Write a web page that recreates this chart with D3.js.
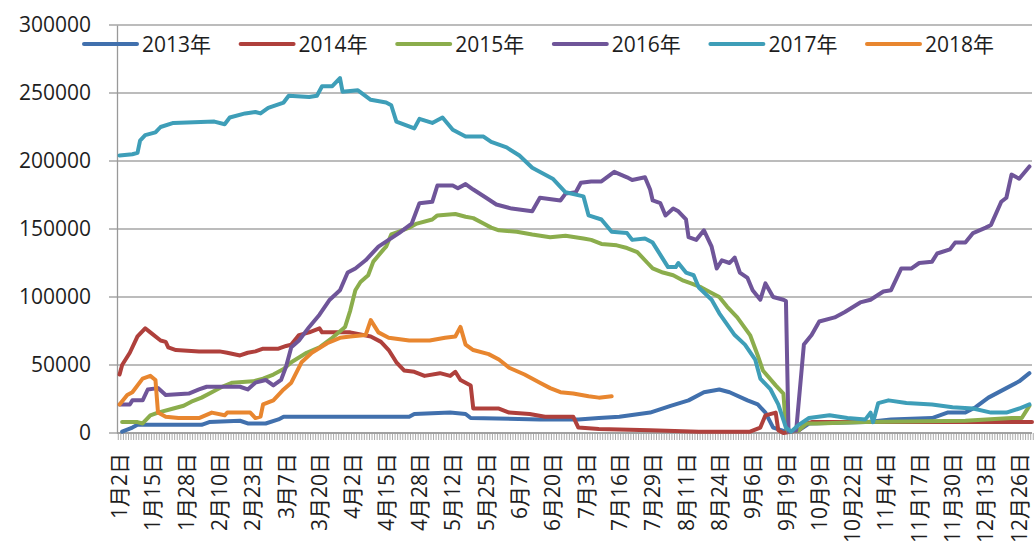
<!DOCTYPE html>
<html>
<head>
<meta charset="utf-8">
<script src="https://cdn.jsdelivr.net/npm/d3@7"></script>
<style>
  body { margin: 0; background: #fff; }
  text { font-family: "Open Sans", "Noto Sans CJK SC", sans-serif; fill: #1e1e1e; }
</style>
</head>
<body>
<svg id="chart" width="1034" height="558"></svg>
<script>
// category axis: one slot per trading day, a label every 13 slots
var nCats = 357;
var labelStep = 13;
var tickLabels = ["1月2日","1月15日","1月28日","2月10日","2月23日","3月7日","3月20日",
  "4月2日","4月15日","4月28日","5月12日","5月25日","6月7日","6月20日","7月3日",
  "7月16日","7月29日","8月11日","8月24日","9月6日","9月19日","10月9日","10月22日",
  "11月4日","11月17日","11月30日","12月13日","12月26日"];
var yTicks = [0, 50000, 100000, 150000, 200000, 250000, 300000];
var years = ["2013年","2014年","2015年","2016年","2017年","2018年"];
var colors = ["#4170ad","#af403c","#8bad4c","#6f5599","#3e9eb8","#e8862f"];

// [day index, value]
var s2013 = [[1,1000],[5,4000],[7,6000],[32,6000],[35,8000],[47,9000],[50,7000],[57,7000],
  [62,10000],[64,12000],[90,12000],[113,12000],[115,14000],[129,15000],[135,14000],[137,11000],
  [164,10000],[179,10000],[187,11000],[195,12000],[207,15000],[215,20000],[222,24000],[228,30000],
  [234,32000],[238,30000],[245,24000],[249,21000],[252,15000],[255,4000],[260,1000],[265,2000],
  [269,7000],[291,8000],[301,10000],[317,11000],[323,15000],[330,15000],[334,19000],[339,26000],
  [346,33000],[351,38000],[355,44000]];
var s2014 = [[0,43000],[1,50000],[4,59000],[7,71000],[10,77000],[12,74000],[16,68000],[18,67000],
  [19,63000],[22,61000],[31,60000],[39,60000],[42,59000],[47,57000],[50,59000],[53,60000],
  [56,62000],[62,62000],[65,64000],[67,65000],[70,72000],[74,74000],[78,77000],[79,74000],
  [90,74000],[98,71000],[102,67000],[105,61000],[108,52000],[111,46000],[115,45000],[119,42000],
  [125,44000],[129,42000],[131,45000],[133,39000],[137,35000],[138,18000],[148,18000],[152,15000],
  [160,14000],[166,12000],[177,12000],[179,4000],[187,3000],[207,2000],[226,1000],[246,1000],
  [250,4000],[252,13000],[256,15000],[257,2000],[259,0],[265,2000],[268,7000],[270,8000],[356,8000]];
var s2015 = [[1,8000],[7,8000],[9,7000],[12,13000],[15,15000],[21,18000],[25,20000],[28,23000],
  [32,26000],[36,30000],[40,34000],[44,37000],[52,38000],[56,40000],[60,43000],[64,47000],
  [67,52000],[73,59000],[78,63000],[83,70000],[88,78000],[90,90000],[92,105000],[94,111000],
  [97,116000],[99,126000],[103,135000],[104,137000],[106,146000],[109,148000],[113,151000],
  [116,154000],[122,157000],[124,160000],[131,161000],[135,159000],[138,158000],[142,154000],
  [145,151000],[148,149000],[155,148000],[161,146000],[168,144000],[174,145000],[181,143000],
  [184,142000],[188,139000],[194,138000],[198,136000],[202,133000],[206,125000],[208,121000],
  [212,118000],[216,116000],[220,112000],[223,110000],[227,107000],[231,103000],[234,100000],
  [237,93000],[241,85000],[246,72000],[249,57000],[251,46000],[256,35000],[259,29000],[260,4000],
  [261,1000],[265,2000],[268,7000],[272,7000],[291,8000],[330,9000],[348,11000],[352,11000],
  [354,17000],[355,20000]];
var s2016 = [[0,21000],[4,21000],[5,24000],[9,24000],[11,32000],[15,33000],[18,28000],[27,29000],
  [31,32000],[34,34000],[47,34000],[50,32000],[53,37000],[57,39000],[60,35000],[63,39000],
  [65,49000],[67,63000],[70,68000],[74,78000],[78,87000],[82,98000],[86,105000],[89,118000],
  [92,121000],[96,127000],[101,137000],[105,142000],[109,147000],[114,154000],[117,169000],
  [122,170000],[124,182000],[130,182000],[132,180000],[135,183000],[138,179000],[143,173000],
  [147,168000],[153,165000],[161,163000],[164,173000],[172,171000],[174,176000],[178,177000],
  [180,184000],[184,185000],[188,185000],[193,192000],[198,188000],[200,186000],[205,188000],
  [207,179000],[208,171000],[211,169000],[213,160000],[216,165000],[218,163000],[221,157000],
  [222,144000],[225,142000],[228,149000],[231,137000],[233,121000],[235,127000],[238,125000],
  [240,129000],[242,118000],[245,114000],[247,105000],[250,98000],[252,110000],[255,100000],
  [259,98000],[260,97000],[261,1000],[264,2000],[267,65000],[270,72000],[273,82000],[279,85000],
  [283,89000],[289,96000],[293,98000],[298,104000],[301,105000],[305,121000],[309,121000],
  [312,125000],[317,126000],[319,132000],[324,135000],[326,140000],[330,140000],[333,147000],
  [338,151000],[340,153000],[344,170000],[346,173000],[348,190000],[351,187000],[355,196000]];
var s2017 = [[0,204000],[5,205000],[7,206000],[8,215000],[10,219000],[14,221000],[16,225000],
  [21,228000],[37,229000],[41,227000],[43,232000],[49,235000],[53,236000],[55,235000],[58,239000],
  [64,243000],[66,248000],[74,247000],[77,248000],[79,255000],[83,255000],[86,261000],[87,251000],
  [93,252000],[98,245000],[104,243000],[106,241000],[108,229000],[115,224000],[117,231000],
  [122,228000],[126,232000],[130,223000],[135,218000],[142,218000],[145,214000],[151,210000],
  [156,204000],[161,195000],[169,187000],[174,177000],[181,174000],[183,160000],[188,157000],
  [192,148000],[198,147000],[200,142000],[205,143000],[208,140000],[211,131000],[214,122000],
  [217,122000],[218,125000],[221,118000],[224,116000],[226,107000],[231,98000],[234,88000],
  [240,72000],[244,65000],[248,54000],[250,40000],[254,32000],[257,21000],[260,4000],[262,1000],
  [265,6000],[269,11000],[277,13000],[284,11000],[291,10000],[293,15000],[294,8000],[296,22000],
  [300,24000],[307,22000],[317,21000],[325,19000],[333,18000],[340,15000],[346,15000],
  [351,18000],[355,21000]];
var s2018 = [[0,21000],[3,28000],[5,30000],[9,40000],[12,42000],[14,39000],[15,15000],[18,12000],
  [23,11000],[31,11000],[36,15000],[41,13000],[42,15000],[51,15000],[53,11000],[55,12000],
  [56,21000],[60,24000],[64,32000],[67,37000],[71,52000],[75,59000],[81,66000],[86,70000],
  [90,71000],[96,72000],[98,83000],[101,74000],[105,70000],[113,68000],[121,68000],[127,70000],
  [131,71000],[133,78000],[135,65000],[138,61000],[144,58000],[148,54000],[152,48000],[158,43000],
  [164,37000],[168,33000],[172,30000],[177,29000],[183,27000],[187,26000],[192,27000]];
var seriesData = [s2013, s2014, s2015, s2016, s2017, s2018];

!(function() {
  "use strict";

  var svg = d3.select("#chart");
  var plotL = 117, plotR = 1032, plotT = 25, plotB = 433;

  var x = d3.scaleLinear().domain([-1, nCats - 1]).range([plotL, plotR]);
  var y = d3.scaleLinear().domain([0, 300000]).range([plotB, plotT]);

  // gridlines
  svg.append("g").selectAll("line").data(yTicks).enter().append("line")
    .attr("x1", plotL - 8).attr("x2", plotR)
    .attr("y1", function(d) { return y(d); }).attr("y2", function(d) { return y(d); })
    .attr("stroke", "#a6a6a6").attr("stroke-width", 1.3);

  // y axis
  var yAxis = d3.axisLeft(y).tickValues(yTicks).tickSize(0).tickPadding(26)
    .tickFormat(d3.format("d"));
  var gy = svg.append("g").attr("transform", "translate(" + plotL + ",0)").call(yAxis);
  gy.select(".domain").attr("stroke", "#999").attr("stroke-width", 1.3);
  gy.selectAll("text").style("font-size", "21px").attr("fill", "#1e1e1e");

  // x axis line and the dense per-day ticks
  svg.append("line").attr("x1", plotL).attr("x2", plotR).attr("y1", plotB).attr("y2", plotB)
    .attr("stroke", "#999").attr("stroke-width", 1.3);
  svg.append("g").selectAll("line").data(d3.range(nCats + 1)).enter().append("line")
    .attr("x1", function(i) { return x(i - 0.5); }).attr("x2", function(i) { return x(i - 0.5); })
    .attr("y1", plotB).attr("y2", plotB + 7)
    .attr("stroke", "#a0a0a0").attr("stroke-width", 0.9);

  svg.append("g").selectAll("text").data(tickLabels).enter().append("text")
    .attr("transform", function(d, i) { return "translate(" + x(i * labelStep) + "," + (plotB + 20) + ") rotate(-90)"; })
    .attr("text-anchor", "end").attr("dy", "0.36em")
    .style("font-size", "21px")
    .text(function(d) { return d; });

  // lines
  var line = d3.line()
    .x(function(d) { return x(d[0]); })
    .y(function(d) { return y(d[1]); });

  svg.append("g").selectAll("path").data(seriesData).enter().append("path")
    .attr("d", line)
    .attr("fill", "none")
    .attr("stroke", function(d, i) { return colors[i]; })
    .attr("stroke-width", 4)
    .attr("stroke-linejoin", "round")
    .attr("stroke-linecap", "round");

  // legend
  var legend = svg.append("g").selectAll("g").data(years).enter().append("g")
    .attr("transform", function(d, i) { return "translate(" + (84 + i * 156.6) + ",44)"; });
  legend.append("line").attr("x1", 0).attr("x2", 53).attr("y1", 0).attr("y2", 0)
    .attr("stroke", function(d, i) { return colors[i]; })
    .attr("stroke-width", 4).attr("stroke-linecap", "round");
  legend.append("text").attr("x", 58).attr("dy", "0.36em")
    .style("font-size", "21px")
    .text(function(d) { return d; });
}());
</script>
</body>
</html>
